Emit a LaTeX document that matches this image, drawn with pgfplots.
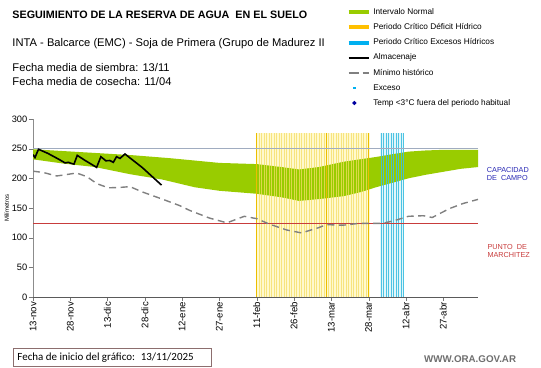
\documentclass[border=0pt]{standalone}
\usepackage{fontspec}
\setmainfont{Liberation Sans}
\newfontfamily\calibri{Carlito}
\usepackage{pgfplots}
\pgfplotsset{compat=1.18}
\definecolor{greenband}{RGB}{153,204,0}
\definecolor{yelbg}{RGB}{255,249,205}
\definecolor{yelline}{RGB}{245,222,100}
\definecolor{yelgold}{RGB}{235,190,0}
\definecolor{cyline}{RGB}{60,190,225}
\definecolor{cybg}{RGB}{225,246,250}
\definecolor{capline}{RGB}{160,172,192}
\definecolor{redline}{RGB}{200,60,60}
\definecolor{minline}{RGB}{128,128,128}
\definecolor{capblue}{RGB}{40,40,180}
\definecolor{legyel}{RGB}{255,192,0}
\definecolor{legcy}{RGB}{0,176,240}
\definecolor{boxcol}{RGB}{140,110,110}
\definecolor{webgray}{RGB}{110,110,110}
\definecolor{xaxcol}{RGB}{90,90,90}
\definecolor{yaxcol}{RGB}{140,140,140}
\definecolor{tickcol}{RGB}{120,120,120}
\definecolor{tempblue}{RGB}{0,0,160}
\begin{document}
\begin{tikzpicture}
\begin{axis}[
  at={(33bp,71bp)}, anchor=south west,
  scale only axis, width=445bp, height=178bp,
  xmin=0, xmax=179, ymin=0, ymax=300,
  axis x line=bottom, axis y line=left,
  axis line style={-},
  x axis line style={draw=xaxcol},
  y axis line style={draw=yaxcol},
  xtick={0,15,30,45,60,75,90,105,120,135,150,165},
  xticklabels={13-nov,28-nov,13-dic,28-dic,12-ene,27-ene,11-feb,26-feb,13-mar,28-mar,12-abr,27-abr},
  ytick={0,50,100,150,200,250,300},
  tick align=outside, major tick length=4bp,
  tick style={draw=tickcol},
  /pgf/number format/assume math mode=true,
  x tick label style={rotate=90, anchor=east, font=\fontsize{9.6}{11}\selectfont, inner sep=1bp},
  y tick label style={font=\fontsize{9.3}{11}\selectfont, inner sep=1.5bp},
  ylabel={Milímetros},
  every axis y label/.style={at={(axis description cs:-0.059,0.5)}, rotate=90, anchor=center, font=\fontsize{6}{7}\selectfont},
  legend style={at={(axis description cs:0.705,1.62)}, anchor=north west, draw=none, fill=none,
    inner sep=0pt, outer sep=0pt, font=\fontsize{8.3}{9}\selectfont, row sep=7.6bp, column sep=2.6bp,
    nodes={inner sep=0pt, text height=6bp, text depth=1.5bp}},
  legend cell align=left,
]
% legend
\addlegendimage{draw=none, mark=none, legend image code/.code={\draw[line width=4bp, greenband] (0bp,0bp) -- (20bp,0bp);}}
\addlegendentry{Intervalo Normal}
\addlegendimage{draw=none, mark=none, legend image code/.code={\draw[line width=4bp, legyel] (0bp,0bp) -- (20bp,0bp);}}
\addlegendentry{Periodo Crítico Déficit Hídrico}
\addlegendimage{draw=none, mark=none, legend image code/.code={\draw[line width=4bp, legcy] (0bp,0bp) -- (20bp,0bp);}}
\addlegendentry{Periodo Crítico Excesos Hídricos}
\addlegendimage{draw=none, mark=none, legend image code/.code={\draw[line width=2bp, black] (0bp,0bp) -- (20.7bp,0bp);}}
\addlegendentry{Almacenaje}
\addlegendimage{draw=none, mark=none, legend image code/.code={\draw[line width=1.5bp, minline, dash pattern=on 10bp off 4bp] (0bp,0bp) -- (20bp,0bp);}}
\addlegendentry{Mínimo histórico}
\addlegendimage{draw=none, mark=none, legend image code/.code={\path[draw=none] (0bp,0bp) -- (20bp,0bp); \fill[legcy, draw=none] (4.6bp,-1.1bp) rectangle (6.8bp,1.1bp);}}
\addlegendentry{Exceso}
\addlegendimage{draw=none, mark=none, legend image code/.code={\path[draw=none] (0bp,0bp) -- (20bp,0bp); \fill[tempblue, draw=none] (5.7bp,-2.2bp) -- (7.9bp,0bp) -- (5.7bp,2.2bp) -- (3.5bp,0bp) -- cycle;}}
\addlegendentry{Temp <3°C fuera del periodo habitual}

% backgrounds of critical periods
\addplot[fill=yelbg, draw=none, forget plot] coordinates {(89.6,0) (89.6,276) (135.4,276) (135.4,0)} -- cycle;
\addplot[fill=cybg, draw=none, forget plot] coordinates {(139.6,0) (139.6,276) (149.4,276) (149.4,0)} -- cycle;

% normal interval band (upper bound left to right, lower bound right to left)
\addplot[fill=greenband, draw=none, forget plot] coordinates {
(0,249) (10,246.5) (20,244) (30,241.5) (40,239) (55,234) (65,230) (75,226) (90,224) (100,219) (107,215) (115,219) (125,228) (138,236) (145,241) (151,245) (158,247) (165,248) (179,248)
(179,219) (172,216) (165,211) (158,206) (151,200) (145,193) (138,185) (132,177) (125,170) (115,165) (107,162) (100,168) (90,174) (75,179) (65,185) (59,191) (52,198) (39,207) (25,219) (12,225) (0,232)} -- cycle;

% deficit period lines
\addplot[ycomb, yelline, line width=0.7bp, opacity=0.75, forget plot] coordinates {
(90,276) (91,276) (92,276) (93,276) (94,276) (95,276) (96,276) (97,276) (98,276) (99,276)
(100,276) (101,276) (102,276) (103,276) (104,276) (105,276) (106,276) (107,276) (108,276) (109,276)
(110,276) (111,276) (112,276) (113,276) (114,276) (115,276) (116,276) (117,276) (118,276) (119,276)
(120,276) (121,276) (122,276) (123,276) (124,276) (125,276) (126,276) (127,276) (128,276) (129,276)
(130,276) (131,276) (132,276) (133,276) (134,276) (135,276)};
\addplot[ycomb, yelgold, line width=0.8bp, forget plot] coordinates {(90,276) (118,276) (135,276)};
% excess period lines
\addplot[ycomb, cyline, line width=0.8bp, opacity=0.9, forget plot] coordinates {
(140,276) (141,276) (142,276) (143,276) (144,276) (145,276) (146,276) (147,276) (148,276) (149,276)};

% field capacity and wilting point
\addplot[capline, line width=1.5bp, forget plot] coordinates {(0,250) (179,250)};
\addplot[redline, line width=0.8bp, forget plot] coordinates {(0,124) (179,124)};

% historical minimum
\addplot[minline, line width=1.4bp, dash pattern=on 7bp off 4.5bp, forget plot] coordinates {
(0,212) (4,210) (9.5,204) (12.2,205.5) (17.5,209) (21.6,203) (25.7,191) (30.3,184) (35,184.7) (39,186) (44,177) (52,165) (59,154) (63,146) (71,133) (78,125) (85,136) (90,132) (95,123) (102,113) (108,108) (115,117) (118,122) (124.6,121) (131,124) (140.6,124) (146,129.5) (151,136) (157,137) (160.6,134) (167.5,149) (173,157.6) (179,164.5)};

% storage
\addplot[black, line width=1.6bp, forget plot] coordinates {
(0,240) (0.8,235) (2.2,249) (6,242) (10,233) (12.9,226) (14.2,227) (15.5,225) (16.5,224) (17.8,238.7) (21,230) (25.6,218.5) (27.3,236.4) (29.3,229.6) (30.9,230) (32.3,227) (33.6,236.4) (35,233.6) (37,241) (44,218) (51.7,188.6)};
\end{axis}

% texts
\node[anchor=base west, inner sep=0pt, font=\fontsize{10.8}{12}\selectfont\bfseries] at (12.3bp,349bp) {SEGUIMIENTO DE LA RESERVA DE AGUA \ EN EL SUELO};
\node[anchor=base west, inner sep=0pt, font=\fontsize{11.2}{12}\selectfont] at (12.3bp,321.5bp) {INTA - Balcarce (EMC) - Soja de Primera (Grupo de Madurez II};
\node[anchor=base west, inner sep=0pt, font=\fontsize{11.2}{12}\selectfont] at (12.3bp,296bp) {Fecha media de siembra: 13/11};
\node[anchor=base west, inner sep=0pt, font=\fontsize{11.2}{12}\selectfont] at (12.3bp,282.5bp) {Fecha media de cosecha: 11/04};

\node[anchor=base west, inner sep=0pt, font=\fontsize{7.3}{8}\selectfont, text=capblue] at (486.7bp,195.3bp) {CAPACIDAD};
\node[anchor=base west, inner sep=0pt, font=\fontsize{7.3}{8}\selectfont, text=capblue] at (486.7bp,187.3bp) {DE \ CAMPO};
\node[anchor=base west, inner sep=0pt, font=\fontsize{7.3}{8}\selectfont, text=redline] at (487.3bp,118.7bp) {PUNTO \ DE};
\node[anchor=base west, inner sep=0pt, font=\fontsize{7.3}{8}\selectfont, text=redline] at (487.3bp,110.3bp) {MARCHITEZ};

\draw[boxcol, line width=0.7bp] (13.3bp,1.3bp) rectangle (211.7bp,19.7bp);
\node[anchor=west, inner sep=0pt, font=\calibri\fontsize{11}{12}\selectfont] at (17.3bp,10.7bp) {Fecha de inicio del gráfico: \ 13/11/2025};
\node[anchor=base west, inner sep=0pt, font=\fontsize{9.8}{11}\selectfont\bfseries, text=webgray] at (424bp,5.3bp) {WWW.ORA.GOV.AR};

\pgfresetboundingbox
\path[use as bounding box] (0bp,0bp) rectangle (541bp,368bp);
\end{tikzpicture}
\end{document}
